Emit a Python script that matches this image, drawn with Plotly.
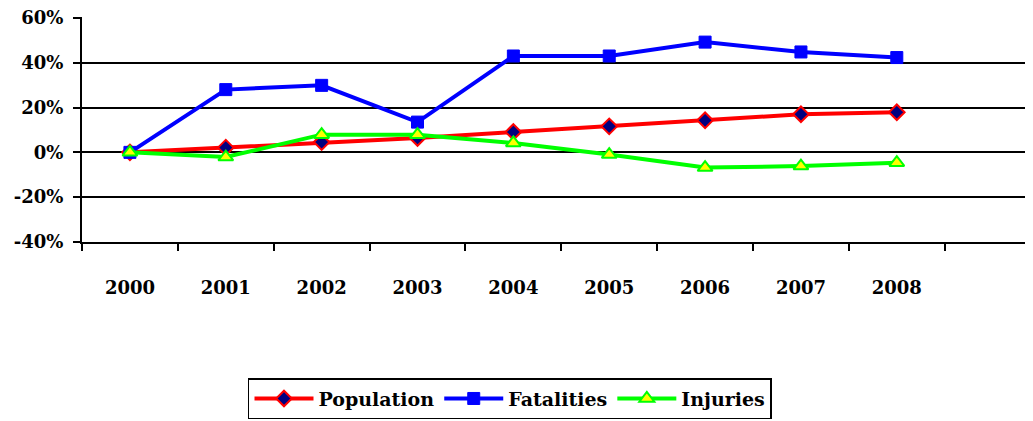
import plotly.graph_objects as go

years = ["2000", "2001", "2002", "2003", "2004", "2005", "2006", "2007", "2008"]
population = [0.0, 2.1, 4.6, 6.4, 9.1, 11.6, 14.3, 17.0, 17.9]
fatalities = [0.0, 28.0, 29.9, 13.5, 43.0, 43.0, 49.2, 44.8, 42.3]
injuries = [0.0, -2.1, 7.9, 7.9, 4.2, -1.0, -6.8, -6.1, -4.6]
y_ticks = [-40, -20, 0, 20, 40, 60]
y_labels = ["-40%", "-20%", "0%", "20%", "40%", "60%"]

FONT = dict(family="DejaVu Serif", size=18, color="black", weight="bold")

fig = go.Figure()
fig.add_trace(go.Scatter(
    x=years, y=population, name="Population", mode="lines+markers",
    line=dict(color="#FF0000", width=4),
    marker=dict(symbol="diamond", size=12, color="#000080",
                line=dict(color="#FF0000", width=2)),
))
fig.add_trace(go.Scatter(
    x=years, y=fatalities, name="Fatalities", mode="lines+markers",
    line=dict(color="#0000FF", width=4),
    marker=dict(symbol="square", size=12, color="#0000FF",
                line=dict(color="#0000FF", width=1)),
))
fig.add_trace(go.Scatter(
    x=years, y=injuries, name="Injuries", mode="lines+markers",
    line=dict(color="#00FF00", width=4),
    marker=dict(symbol="triangle-up", size=13, color="#FFFF00",
                line=dict(color="#00FF00", width=2)),
))

fig.update_layout(
    width=1025, height=413,
    margin=dict(l=74, r=2, t=9, b=179),
    paper_bgcolor="white", plot_bgcolor="white",
    font=FONT,
    showlegend=True,
    legend=dict(
        orientation="h", x=0.451, xanchor="center", y=-0.605, yanchor="top",
        bordercolor="black", borderwidth=1.5, bgcolor="white",
        font=dict(family="DejaVu Serif", size=19, color="black", weight="bold"),
        itemwidth=59, tracegroupgap=0,
    ),
)
fig.update_xaxes(
    type="category", categoryorder="array", categoryarray=years,
    range=[-0.5, 9.4], automargin=False,
    showgrid=False, showline=True, linecolor="black", linewidth=2,
    ticks="outside", ticklen=7, tickwidth=2, tickcolor="black",
    tickson="boundaries", ticklabelstandoff=28,
    tickfont=FONT, zeroline=False,
)
fig.update_yaxes(
    range=[-40, 60.4], tickvals=y_ticks, ticktext=y_labels, automargin=False,
    ticklabeloverflow="allow",
    showgrid=True, gridcolor="black", gridwidth=2,
    zeroline=True, zerolinecolor="black", zerolinewidth=2,
    showline=True, linecolor="black", linewidth=2,
    ticks="outside", ticklen=7, tickwidth=2, tickcolor="black",
    ticklabelstandoff=6,
    tickfont=FONT,
)

fig.write_html("out.html")
